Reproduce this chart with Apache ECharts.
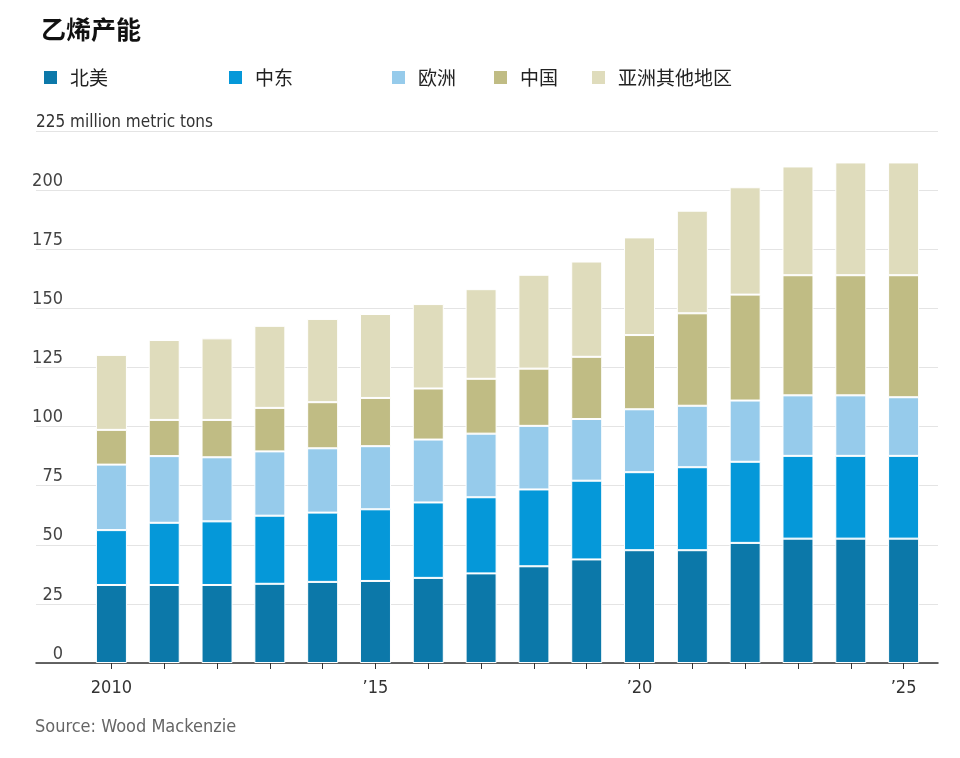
<!DOCTYPE html>
<html>
<head>
<meta charset="utf-8">
<script src="https://cdn.jsdelivr.net/npm/echarts@6/dist/echarts.min.js"></script>
<style>html,body{margin:0;padding:0;background:#fff;}#chart{width:960px;height:758px;}</style>
</head>
<body>
<div id="chart"></div>
<script>
const years = ['2010','2011','2012','2013','2014','2015','2016','2017','2018','2019','2020','2021','2022','2023','2024','2025'];
const seriesNames = ['北美','中东','欧洲','中国','亚洲其他地区'];
const northAmerica = [33,33,33,33.5,34.3,34.7,36,37.9,40.9,43.8,47.7,47.7,50.8,52.6,52.6,52.6];
const middleEast   = [23.2,26.3,26.9,28.8,29.3,30.3,31.9,32.2,32.5,33.3,33.0,35.1,34.3,35.0,35.0,35.0];
const europe       = [27.7,28.2,27.1,27.2,27.2,26.7,26.6,26.9,26.9,26.1,26.6,26.0,25.9,25.6,25.6,24.8];
const china        = [14.7,15.3,15.8,18.4,19.5,20.4,21.6,23.2,24.2,26.3,31.4,39.1,44.8,50.8,50.8,51.6];
const restOfAsia   = [31.7,33.8,34.5,34.7,35.2,35.5,35.7,37.9,39.7,40.3,41.3,43.4,45.4,46.0,47.7,47.7];
const yTicks = { min: 0, max: 225, step: 25 };
const unitLabel = '225 million metric tons';

const colors = ['#0c78a9','#0598d9','#96cbeb','#c0bc84','#dfdcbc'];
const values = [northAmerica, middleEast, europe, china, restOfAsia];
const narrow = '"Liberation Sans Narrow","DejaVu Sans Condensed","Liberation Sans",sans-serif';
const cjk = '"Noto Sans CJK SC","Noto Sans",sans-serif';

const legendLefts = [37, 222, 385, 487, 585];
const legends = seriesNames.map((n, i) => ({
  data: [n], left: legendLefts[i], top: 63, icon: 'rect', itemWidth: 15, itemHeight: 15,
  selectedMode: false,
  textStyle: { fontFamily: cjk, fontSize: 19, color: '#222', padding: [0,0,0,7] }
}));

const chart = echarts.init(document.getElementById('chart'), null, { renderer: 'canvas' });
chart.setOption({
  animation: false,
  color: colors,
  title: {
    text: '乙烯产能', left: 36, top: 12,
    textStyle: { fontFamily: cjk, fontSize: 25, fontWeight: 'bold', color: '#111' }
  },
  legend: legends,
  grid: [
    { left: 36, right: 22, top: 131, bottom: 95 },
    { left: 85, right: 30, top: 131, bottom: 95 }
  ],
  xAxis: [
    { gridIndex: 0, type: 'value', min: 0, max: 1, axisLine: { show: true, onZero: false, lineStyle: { color: '#333', width: 1.5 } },
      axisTick: { show: false }, axisLabel: { show: false }, splitLine: { show: false } },
    { gridIndex: 1, type: 'category', data: years, axisLine: { show: false },
      axisTick: { show: true, alignWithLabel: true, interval: 0, length: 6, lineStyle: { color: '#333' } },
      axisLabel: { interval: 0, margin: 16, fontFamily: narrow, fontSize: 18, color: '#333',
        formatter: (v, i) => (i % 5 !== 0) ? '' : (i === 0 ? v : '\u2019' + v.slice(2)) } }
  ],
  yAxis: [
    { gridIndex: 0, type: 'value', min: yTicks.min, max: yTicks.max, interval: yTicks.step,
      axisLine: { show: false }, axisTick: { show: false },
      splitLine: { lineStyle: { color: '#e4e4e4', width: 1 } },
      axisLabel: { inside: true, margin: 27, align: 'right', verticalAlign: 'bottom',
        fontFamily: narrow, fontSize: 18, color: '#444',
        formatter: v => v === yTicks.max ? '' : String(v) },
      name: unitLabel, nameLocation: 'end', nameGap: 0,
      nameTextStyle: { align: 'left', verticalAlign: 'bottom', fontFamily: narrow, fontSize: 17, color: '#333' } },
    { gridIndex: 1, type: 'value', min: yTicks.min, max: yTicks.max, interval: yTicks.step, show: false }
  ],
  series: seriesNames.map((n, i) => ({
    name: n, type: 'bar', stack: 'total', xAxisIndex: 1, yAxisIndex: 1,
    barWidth: 31, data: values[i],
    itemStyle: { color: colors[i], borderColor: '#fff', borderWidth: 1 }
  })),
  graphic: [
    { type: 'text', left: 35, top: 718, style: { text: 'Source: Wood Mackenzie', fontFamily: narrow, fontSize: 18, fill: '#666' } }
  ]
});
</script>
</body>
</html>
